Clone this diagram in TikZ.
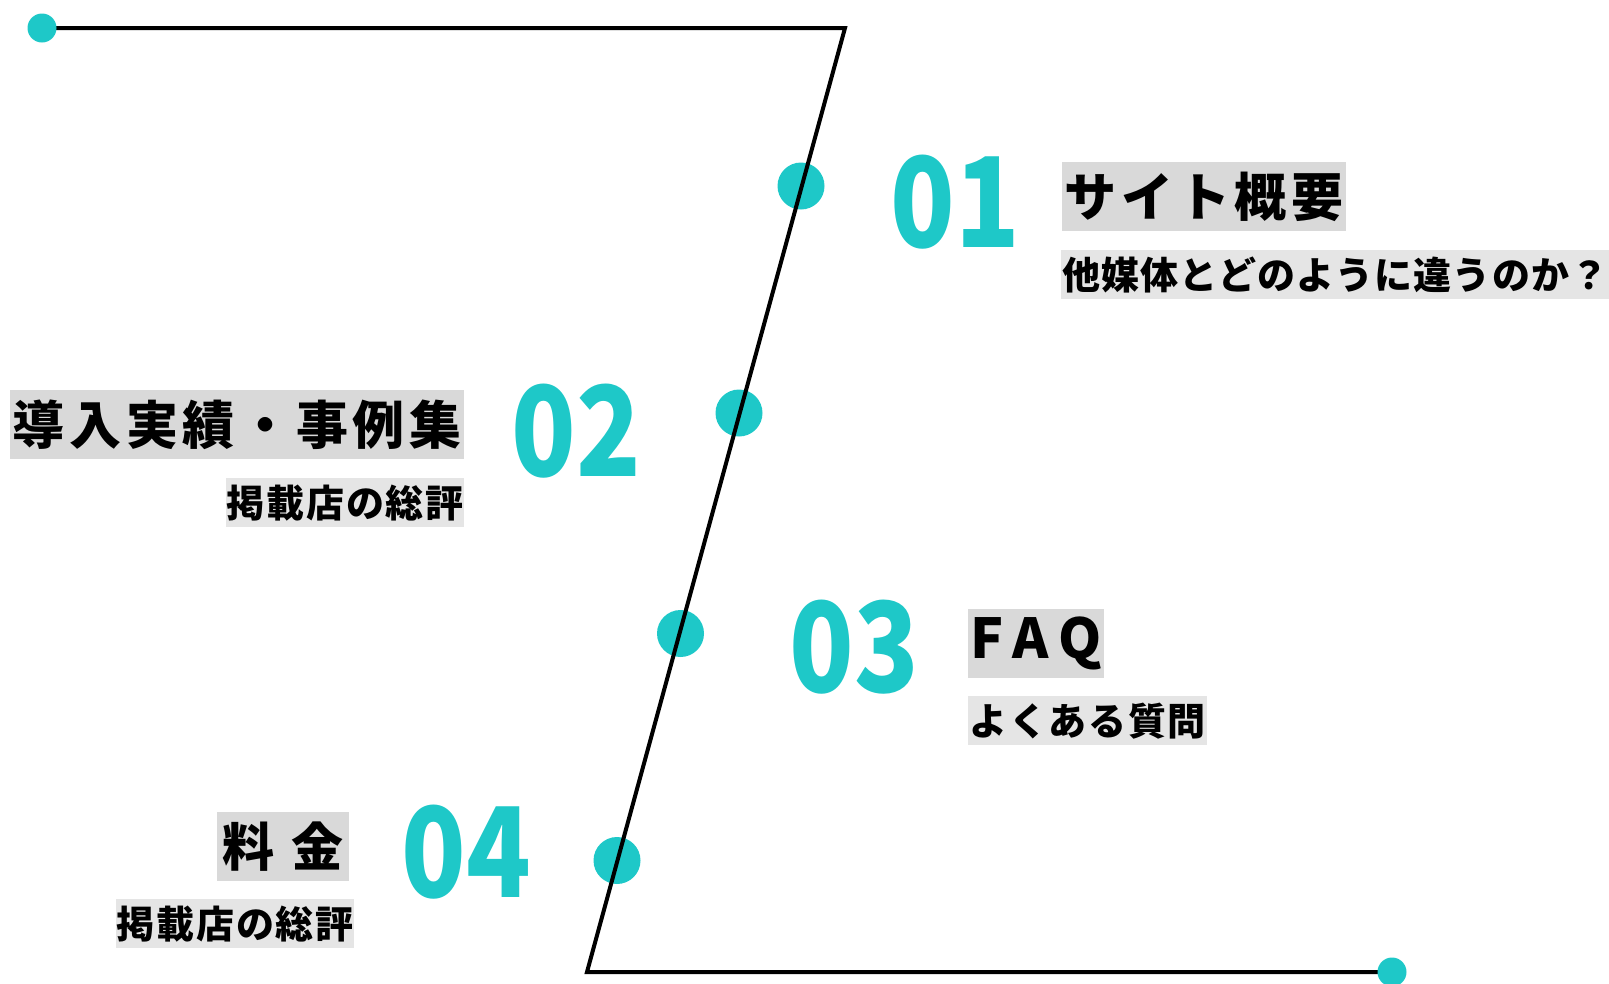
\documentclass[tikz,border=0pt]{standalone}
\usepackage{fontspec}
\usepackage{graphicx}
\newfontfamily\jptitle{Noto Sans CJK JP}[LetterSpace=9]
\newfontfamily\jpsub{Noto Sans CJK JP}[LetterSpace=4.5]
\newfontfamily\jpsubtight{Noto Sans CJK JP}[LetterSpace=2.8]
\newfontfamily\jpfaq{Noto Sans CJK JP}[LetterSpace=20]
\newfontfamily\jpnum{Noto Sans CJK JP}
\newcommand{\narrownum}[1]{\scalebox{0.85}[1]{#1}}
\definecolor{teal1}{HTML}{1EC8C8}
\definecolor{titlegray}{HTML}{D9D9D9}
\definecolor{subgray}{HTML}{E5E5E5}
\pgfdeclarelayer{fg}
\pgfsetlayers{main,fg}
\begin{document}
\begin{tikzpicture}[x=1pt,y=-1pt,
  enddot/.style={circle,fill=teal1,minimum size=29pt,inner sep=0},
  middot/.style={circle,fill=teal1,minimum size=47pt,inner sep=0},
  rail/.style={line width=4pt,line join=miter},
  titlebox/.style={fill=titlegray,anchor=north west,inner sep=0,minimum height=69pt,font=\jptitle\bfseries\fontsize{52}{52}\selectfont},
  subbox/.style={fill=subgray,anchor=north west,inner sep=0,minimum height=49pt,font=\jpsub\bfseries\fontsize{38}{38}\selectfont},
  num/.style={anchor=base,text=teal1,inner sep=0,font=\jpnum\bfseries\fontsize{125}{125}\selectfont}
]
\useasboundingbox (0,0) rectangle (1609,983);
\node[middot] (m1) at (801,186) {};
\node[middot] (m2) at (739,413) {};
\node[middot] (m3) at (680.5,633.5) {};
\node[middot] (m4) at (617,860.5) {};
\coordinate (ctop) at (845,28);
\coordinate (cbot) at (587,972);
\begin{pgfonlayer}{fg}
\node[enddot] (e1) at (42,28) {};
\node[enddot] (e2) at (1392,972) {};
\end{pgfonlayer}
\draw[rail] (e1.center) -- (ctop) -- (cbot) -- (e2.center);

\node[titlebox,minimum width=284pt] (t1) at (1062,162) {サイト概要};
\node[subbox,minimum width=548pt,font=\jpsubtight\bfseries\fontsize{38}{38}\selectfont] (s1) at (1061,250) {他媒体とどのように違うのか？};
\node[titlebox,minimum width=454pt] (t2) at (10,390) {導入実績・事例集};
\node[subbox,minimum width=238pt] (s2) at (226,478) {掲載店の総評};
\node[titlebox,minimum width=136pt,font=\jpfaq\bfseries\fontsize{55}{55}\selectfont] (t3) at (968,609) {FAQ};
\node[subbox,minimum width=239pt] (s3) at (968,696) {よくある質問};
\node[titlebox,minimum width=132pt] (t4) at (217,812) {料 金};
\node[subbox,minimum width=238pt] (s4) at (116,899) {掲載店の総評};

\node[num] (n1) at (955,247) {\narrownum{01}};
\node[num] (n2) at (576,476) {\narrownum{02}};
\node[num] (n3) at (854.5,692) {\narrownum{03}};
\node[num] (n4) at (466,897) {\narrownum{04}};
\end{tikzpicture}
\end{document}
